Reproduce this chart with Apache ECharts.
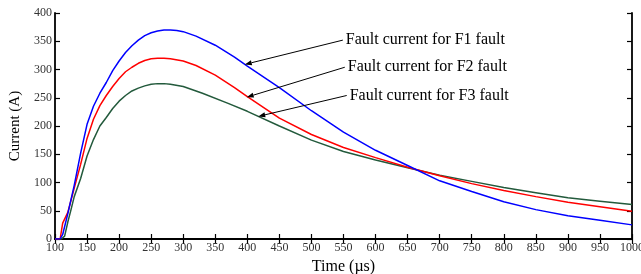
<!DOCTYPE html>
<html><head><meta charset="utf-8">
<script src="https://cdn.jsdelivr.net/npm/echarts@6/dist/echarts.min.js"></script>
<style>html,body{margin:0;padding:0;background:#fff}#c{width:641px;height:274px}</style>
</head><body><div id="c"></div>
<script>
const timeF1 = [100,108,112,120,130,140,150,160,170,180,190,200,210,220,230,240,250,260,270,280,290,300,320,350,380,400,450,500,550,600,650,700,750,800,850,900,950,1000];
const currentF1 = [0,0,8,45,95,152,203,235,258,277,298,315,330,342,352,360,365,368,370,370,369,367,359,343,322,306,268,227,189,157,130,103,84,66,52,41,33,25];
const timeF2 = [100,108,111,112,120,130,140,150,160,170,180,190,200,210,220,230,240,250,260,270,280,300,320,350,380,400,450,500,550,600,650,700,750,800,850,900,950,1000];
const currentF2 = [0,0,0,28,47,90,132,178,212,236,254,270,284,296,304,311,316,319,320,320,319,315,307,290,268,252,214,185,162,144,127,112,98,86,75,65,57,49];
const timeF3 = [100,110,115,120,125,130,140,150,160,170,180,190,200,210,220,230,240,250,260,270,280,300,330,370,400,450,500,550,600,650,700,750,800,850,900,950,1000];
const currentF3 = [0,0,5,30,52,75,107,147,176,200,215,231,244,254,262,267,271,274,275,275,274,270,258,240,226,200,175,155,140,126,113,102,91,82,73,67,61];
const seriesNames = ['Fault current for F1 fault','Fault current for F2 fault','Fault current for F3 fault'];
// annotation: text anchor (data) and arrow head (data)
const noteTail = [[549,352],[552,304],[555,254]];
const noteHead = [[396,309],[399,251],[417,217]];

const FONT = '"Liberation Serif","Times New Roman",serif';
const zip = (a,b)=>a.map((v,i)=>[v,b[i]]);
const chart = echarts.init(document.getElementById('c'), null, {renderer:'canvas'});
const axisLine = {show:true, lineStyle:{color:'#000', width:1.8}};
const tick = {show:true, inside:true, length:5, lineStyle:{color:'#000', width:1.2}};
chart.setOption({
  animation:false,
  backgroundColor:'#fff',
  grid:{left:55, right:9, top:13, bottom:35, containLabel:false, outerBoundsMode:'none'},
  xAxis:[{
    type:'value', min:100, max:1000, interval:50,
    name:'Time (\u00b5s)', nameLocation:'middle', nameGap:13,
    nameTextStyle:{fontFamily:FONT, fontSize:16, color:'#000'},
    axisLine, axisTick:tick, splitLine:{show:false},
    axisLabel:{fontFamily:FONT, fontSize:12, color:'#333', margin:3, showMaxLabel:true, formatter:v=>String(v)}
  },{
    type:'value', position:'top', min:100, max:1000, interval:50,
    axisLine, axisTick:tick, splitLine:{show:false}, axisLabel:{show:false}
  }],
  yAxis:[{
    type:'value', min:0, max:400, interval:50,
    name:'Current (A)', nameLocation:'middle', nameGap:32,
    nameTextStyle:{fontFamily:FONT, fontSize:15, color:'#000'},
    axisLine, axisTick:tick, splitLine:{show:false},
    axisLabel:{fontFamily:FONT, fontSize:12, color:'#333', margin:3, formatter:v=>String(v)}
  },{
    type:'value', position:'right', min:0, max:400, interval:50,
    axisLine, axisTick:tick, splitLine:{show:false}, axisLabel:{show:false}
  }],
  series:[
    {name:seriesNames[0], type:'line', data:zip(timeF1,currentF1), showSymbol:false, lineStyle:{color:'#0000ff', width:1.5}, z:3},
    {name:seriesNames[1], type:'line', data:zip(timeF2,currentF2), showSymbol:false, lineStyle:{color:'#ff0000', width:1.5}, z:2},
    {name:seriesNames[2], type:'line', data:zip(timeF3,currentF3), showSymbol:false, lineStyle:{color:'#235a3c', width:1.5}, z:1}
  ]
});
const g = [];
seriesNames.forEach((n,i)=>{
  const t = chart.convertToPixel({xAxisIndex:0,yAxisIndex:0}, noteTail[i]);
  const h = chart.convertToPixel({xAxisIndex:0,yAxisIndex:0}, noteHead[i]);
  const ang = Math.atan2(h[1]-t[1], h[0]-t[0]);
  const L = 7, W = 2.5;
  const bx = h[0]-L*Math.cos(ang), by = h[1]-L*Math.sin(ang);
  const px = -Math.sin(ang)*W, py = Math.cos(ang)*W;
  g.push({type:'line', shape:{x1:t[0],y1:t[1],x2:bx,y2:by}, style:{stroke:'#000', lineWidth:1}, z:10});
  g.push({type:'polygon', shape:{points:[[h[0],h[1]],[bx+px,by+py],[bx-px,by-py]]}, style:{fill:'#000'}, z:10});
  g.push({type:'text', x:t[0]+3, y:t[1], style:{text:n, font:'16px '+FONT, fill:'#000', textVerticalAlign:'middle', verticalAlign:'middle'}, z:10});
});
chart.setOption({graphic:g});
</script>
</body></html>
